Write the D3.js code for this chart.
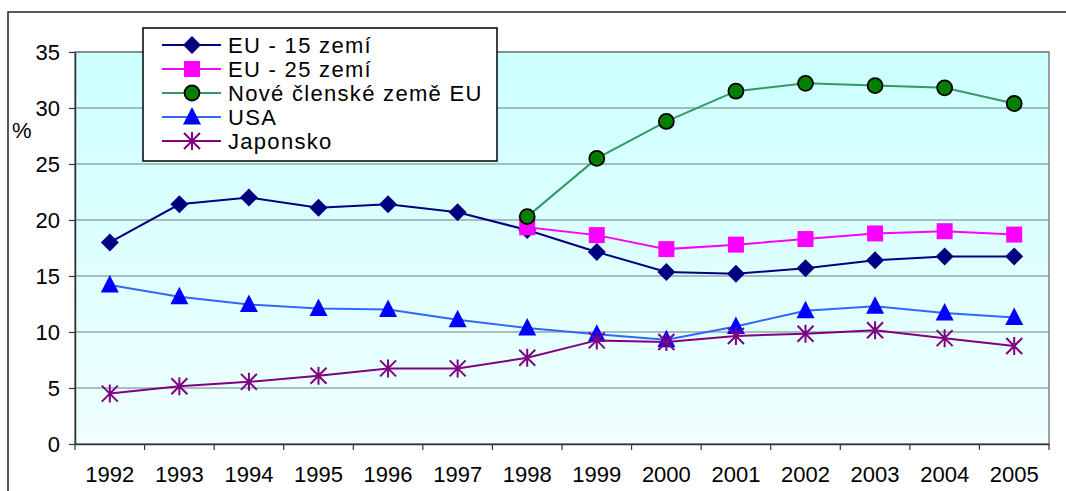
<!DOCTYPE html>
<html lang="cs">
<head>
<meta charset="UTF-8" />
<title>Podíl</title>
<script src="https://d3js.org/d3.v7.min.js"></script>
<style>
  body { margin: 0; background: #fff; }
  svg text { font-family: Arial, "Liberation Sans", sans-serif; fill: #000; }
</style>
</head>
<body>
<div id="chart"></div>
<script>
// data
var years = ["1992","1993","1994","1995","1996","1997","1998","1999","2000","2001","2002","2003","2004","2005"];
var eu15  = [18.0, 21.4, 22.0, 21.1, 21.4, 20.7, 19.1, 17.15, 15.35, 15.2, 15.7, 16.4, 16.75, 16.75];
var eu25  = [null, null, null, null, null, null, 19.35, 18.65, 17.4, 17.8, 18.3, 18.8, 19.0, 18.7];
var nove  = [null, null, null, null, null, null, 20.3, 25.5, 28.8, 31.5, 32.2, 32.0, 31.8, 30.4];
var usa   = [14.2, 13.15, 12.45, 12.1, 12.0, 11.1, 10.35, 9.8, 9.3, 10.5, 11.9, 12.3, 11.7, 11.3];
var japan = [4.5, 5.15, 5.55, 6.1, 6.75, 6.75, 7.7, 9.25, 9.1, 9.65, 9.85, 10.15, 9.45, 8.75];
var yTicks = [0, 5, 10, 15, 20, 25, 30, 35];

var series = [
  {name: "EU - 15 zem\u00ed", values: eu15, line: "#000080", fill: "#000080", stroke: "none", shape: "diamond"},
  {name: "EU - 25 zem\u00ed", values: eu25, line: "#FF00FF", fill: "#FF00FF", stroke: "none", shape: "square"},
  {name: "Nov\u00e9 \u010dlensk\u00e9 zem\u011b EU", values: nove, line: "#339966", fill: "#008000", stroke: "#000", shape: "circle"},
  {name: "USA", values: usa, line: "#3366FF", fill: "#0000FF", stroke: "none", shape: "triangle"},
  {name: "Japonsko", values: japan, line: "#800080", fill: "none", stroke: "#800080", shape: "star"}
];

var W = 1066, H = 491;
var pL = 75, pR = 1049, pT = 52, pB = 444;

var svg = d3.select("#chart").append("svg")
  .attr("width", W).attr("height", H);

// gradient for plot area
var grad = svg.append("defs").append("linearGradient")
  .attr("id", "bg").attr("x1", 0).attr("y1", 0).attr("x2", 0).attr("y2", 1);
grad.append("stop").attr("offset", "0%").attr("stop-color", "#CCFFFF");
grad.append("stop").attr("offset", "100%").attr("stop-color", "#F0FFFF");

// outer chart border (runs off the picture on right and bottom)
svg.append("rect")
  .attr("x", 8).attr("y", 12).attr("width", 1200).attr("height", 600)
  .attr("fill", "none").attr("stroke", "#222").attr("stroke-width", 1.5);

var x = d3.scaleBand().domain(years).range([pL, pR]);
var y = d3.scaleLinear().domain([0, 35]).range([pB, pT]);

svg.append("rect")
  .attr("x", pL).attr("y", pT)
  .attr("width", pR - pL).attr("height", pB - pT)
  .attr("fill", "url(#bg)").attr("stroke", "#808080").attr("stroke-width", 1.5);

// gridlines
svg.append("g").selectAll("line")
  .data(yTicks.filter(function(d){ return d > 0; }))
  .enter().append("line")
  .attr("x1", pL).attr("x2", pR)
  .attr("y1", function(d){ return y(d); }).attr("y2", function(d){ return y(d); })
  .attr("stroke", "#6f7f7f").attr("stroke-width", 1.2);

// y axis
var yAxis = svg.append("g").attr("transform", "translate(" + pL + ",0)")
  .call(d3.axisLeft(y).tickValues(yTicks).tickSize(6).tickPadding(9).tickSizeOuter(0));
yAxis.select(".domain").attr("stroke", "#333").attr("stroke-width", 1.5);
yAxis.selectAll(".tick line").attr("stroke", "#333").attr("stroke-width", 1.2);
yAxis.selectAll("text").style("font-size", "22px").attr("dy", "0.35em");

// x axis (ticks at band edges)
var xAxis = svg.append("g").attr("transform", "translate(0," + pB + ")")
  .call(d3.axisBottom(x).tickSize(0).tickPadding(22));
xAxis.select(".domain").attr("stroke", "#333").attr("stroke-width", 1.5);
xAxis.selectAll("text").style("font-size", "22px");
svg.append("g").selectAll("line")
  .data(years.concat(["end"]))
  .enter().append("line")
  .attr("x1", function(d, i){ return pL + i * x.step(); })
  .attr("x2", function(d, i){ return pL + i * x.step(); })
  .attr("y1", pB).attr("y2", pB + 6)
  .attr("stroke", "#333").attr("stroke-width", 1.2);

svg.append("text").attr("x", 12).attr("y", 138)
  .style("font-size", "22px").text("%");

// marker shapes
function markerPath(shape) {
  if (shape === "diamond") return "M0,-9L9,0L0,9L-9,0Z";
  if (shape === "square") return "M-8,-8H8V8H-8Z";
  if (shape === "triangle") return "M0,-10L9,7.5H-9Z";
  if (shape === "star") return "M0,-9V9M-8,-8L8,8M-8,8L8,-8";
  return null;
}
function drawMarker(g, s) {
  if (s.shape === "circle") {
    g.append("circle").attr("r", 7.5).attr("fill", s.fill)
      .attr("stroke", s.stroke).attr("stroke-width", 1.8);
  } else {
    g.append("path").attr("d", markerPath(s.shape))
      .attr("fill", s.fill).attr("stroke", s.stroke)
      .attr("stroke-width", s.shape === "star" ? 2 : 0);
  }
}

var line = d3.line()
  .defined(function(d){ return d.v !== null; })
  .x(function(d){ return x(d.year) + x.bandwidth() / 2; })
  .y(function(d){ return y(d.v); });

series.forEach(function(s) {
  var pts = years.map(function(yr, i){ return {year: yr, v: s.values[i]}; });
  var g = svg.append("g");
  g.append("path").datum(pts).attr("d", line)
    .attr("fill", "none").attr("stroke", s.line).attr("stroke-width", 2);
  g.selectAll("g.m").data(pts.filter(function(d){ return d.v !== null; }))
    .enter().append("g").attr("class", "m")
    .attr("transform", function(d){ return "translate(" + (x(d.year) + x.bandwidth() / 2) + "," + y(d.v) + ")"; })
    .each(function(){ drawMarker(d3.select(this), s); });
});

// legend
var lg = svg.append("g");
lg.append("rect").attr("x", 143).attr("y", 28).attr("width", 354).attr("height", 133)
  .attr("fill", "#fff").attr("stroke", "#000").attr("stroke-width", 1.5);
series.forEach(function(s, i) {
  var yy = 45 + i * 24;
  lg.append("line").attr("x1", 162).attr("x2", 221).attr("y1", yy).attr("y2", yy)
    .attr("stroke", s.line).attr("stroke-width", 2);
  var m = lg.append("g").attr("transform", "translate(192," + yy + ")");
  drawMarker(m, s);
  lg.append("text").attr("x", 228).attr("y", yy).attr("dy", "0.36em")
    .style("font-size", "22px").style("letter-spacing", "1.3px").text(s.name);
});
</script>
</body>
</html>
